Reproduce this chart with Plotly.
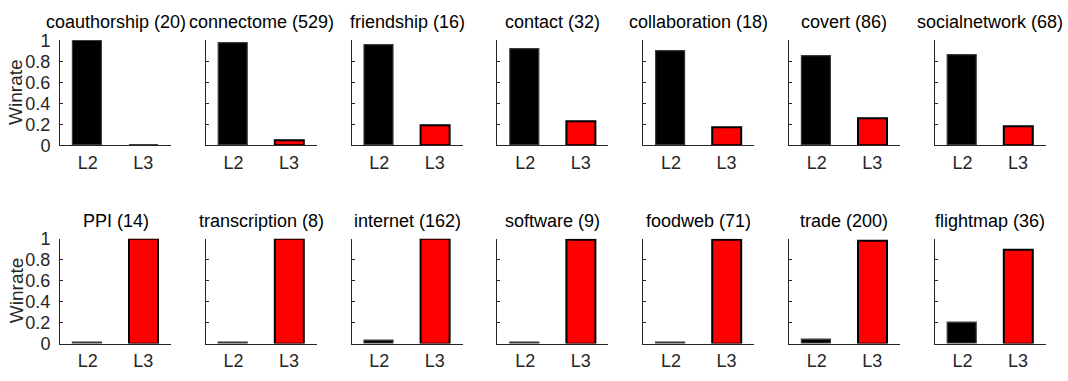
import plotly.graph_objects as go

# Win rates of the L2 and L3 link predictors per network domain
top_names = ["coauthorship (20)", "connectome (529)", "friendship (16)", "contact (32)",
             "collaboration (18)", "covert (86)", "socialnetwork (68)"]
top_l2 = [1.0, 0.97, 0.95, 0.913, 0.898, 0.852, 0.858]
top_l3 = [0.005, 0.05, 0.19, 0.226, 0.169, 0.262, 0.178]

bottom_names = ["PPI (14)", "transcription (8)", "internet (162)", "software (9)",
                "foodweb (71)", "trade (200)", "flightmap (36)"]
bottom_l2 = [0.005, 0.003, 0.024, 0.005, 0.01, 0.04, 0.195]
bottom_l3 = [1.0, 1.0, 1.0, 0.995, 0.99, 0.98, 0.895]

bar_positions = [1, 2]
bar_labels = ["L2", "L3"]
y_ticks = [0, 0.2, 0.4, 0.6, 0.8, 1]
y_tick_text = ["0", "0.2", "0.4", "0.6", "0.8", "1"]

W, H = 1068, 381
AXIS_COLOR = "#262626"
FONT = "Liberation Sans, Arial, sans-serif"
TICK_SIZE = 18
TITLE_SIZE = 18

# panel geometry in pixels
left0, step, panel_w = 60.0, 145.8, 111.0
rows = [
    {"top": 32.0, "bottom": 143.0, "names": top_names, "l2": top_l2, "l3": top_l3},
    {"top": 241.5, "bottom": 352.0, "names": bottom_names, "l2": bottom_l2, "l3": bottom_l3},
]

fig = go.Figure()
layout = dict(
    width=W, height=H,
    margin=dict(l=0, r=0, t=0, b=0),
    paper_bgcolor="white", plot_bgcolor="white",
    showlegend=False,
    font=dict(family=FONT, size=TICK_SIZE, color=AXIS_COLOR),
    bargap=0,
)
annotations = []

idx = 0
for r, row in enumerate(rows):
    y0 = 1 - row["bottom"] / H
    y1 = 1 - row["top"] / H
    for c in range(7):
        idx += 1
        xa = "x" if idx == 1 else f"x{idx}"
        ya = "y" if idx == 1 else f"y{idx}"
        x0 = (left0 + step * c) / W
        x1 = (left0 + step * c + panel_w) / W
        vals = [row["l2"][c], row["l3"][c]]
        fig.add_trace(go.Bar(
            x=bar_positions, y=vals, width=0.52,
            marker=dict(color=["black", "red"],
                        line=dict(color=["#3a3a3a", "black"], width=[1.2, 2])),
            xaxis=xa, yaxis=ya, hoverinfo="skip",
        ))
        layout["xaxis" if idx == 1 else f"xaxis{idx}"] = dict(
            domain=[x0, x1], anchor=ya, range=[0.5, 2.5],
            tickmode="array", tickvals=bar_positions, ticktext=bar_labels,
            showline=True, linecolor=AXIS_COLOR, linewidth=1,
            showgrid=False, zeroline=False, ticks="",
            ticklabelstandoff=1,
            tickfont=dict(size=TICK_SIZE, color=AXIS_COLOR, family=FONT),
            fixedrange=True,
        )
        layout["yaxis" if idx == 1 else f"yaxis{idx}"] = dict(
            domain=[y0, y1], anchor=xa, range=[0, 1],
            tickmode="array", tickvals=y_ticks, ticktext=y_tick_text,
            showticklabels=(c == 0),
            showline=True, linecolor=AXIS_COLOR, linewidth=1,
            showgrid=False, zeroline=False,
            ticks="inside", ticklen=3, tickcolor=AXIS_COLOR, tickwidth=1,
            ticklabelstandoff=5,
            tickfont=dict(size=TICK_SIZE, color=AXIS_COLOR, family=FONT),
            fixedrange=True,
        )
        annotations.append(dict(
            text=row["names"][c], xref="paper", yref="paper",
            x=(x0 + x1) / 2, y=y1, xanchor="center", yanchor="bottom",
            yshift=6, showarrow=False,
            font=dict(size=TITLE_SIZE, color="black", family=FONT),
        ))
    annotations.append(dict(
        text="Winrate", xref="paper", yref="paper",
        x=16 / W, y=(y0 + y1) / 2, xanchor="center", yanchor="middle",
        textangle=-90, showarrow=False,
        font=dict(size=19, color=AXIS_COLOR, family=FONT),
    ))

layout["annotations"] = annotations
fig.update_layout(**layout)
fig.write_html("out.html")
